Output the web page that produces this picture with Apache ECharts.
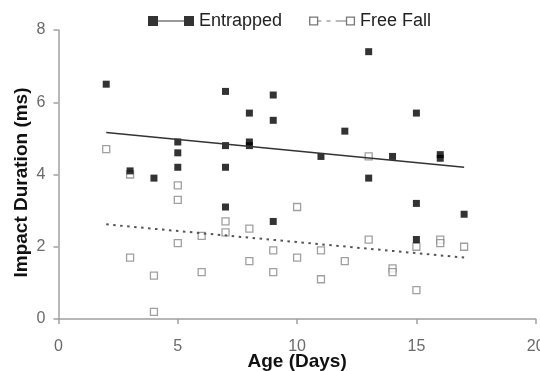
<!DOCTYPE html>
<html><head><meta charset="utf-8">
<script src="https://cdn.jsdelivr.net/npm/echarts@6/dist/echarts.min.js"></script>
<style>html,body{margin:0;padding:0;background:#fff}#c{width:540px;height:371px}</style>
</head><body><div id="c"></div>
<script>
// Entrapped: [age, duration]
const entrappedAge = [2,3,4,5,5,5,7,7,7,7,8,8,8,9,9,9,11,12,13,13,14,15,15,15,16,16,17];
const entrappedDur = [6.5,4.1,3.9,4.9,4.6,4.2,6.3,4.8,4.2,3.1,5.7,4.9,4.8,6.2,5.5,2.7,4.5,5.2,7.4,3.9,4.5,5.7,3.2,2.2,4.55,4.45,2.9];
// Free fall
const freeAge = [2,3,3,4,4,5,5,5,6,6,7,7,8,8,9,9,10,10,11,11,12,13,13,14,14,15,15,16,16,17];
const freeDur = [4.7,4.0,1.7,1.2,0.2,3.7,3.3,2.1,2.3,1.3,2.7,2.4,2.5,1.6,1.9,1.3,3.1,1.7,1.9,1.1,1.6,4.5,2.2,1.4,1.3,2.0,0.8,2.2,2.1,2.0];
// Trend lines (endpoints)
const trendAge = [2,17];
const entrappedTrend = [5.16,4.2];
const freeTrend = [2.62,1.70];
const xTicks = [0,5,10,15,20];
const yTicks = [0,2,4,6,8];

const zip = (a,b) => a.map((v,i)=>[v,b[i]]);
const chart = echarts.init(document.getElementById('c'));
const axisGray = '#a0a0a0';
const FF = 'Liberation Sans, Arial, sans-serif';
chart.setOption({
  animation:false,
  textStyle:{fontFamily:FF},
  grid:{left:58.5,right:4.3,top:30,bottom:52,containLabel:false,outerBoundsMode:'none'},
  legend:{
    top:12,left:148,padding:0,itemGap:27,itemWidth:46,itemHeight:10,
    textStyle:{fontSize:18,color:'#222',fontFamily:FF},
    data:[
      {name:'Entrapped',icon:'path://M0,0H10V10H0ZM10,4.4H37V5.6H10ZM36,0H46V10H36Z',itemStyle:{color:'#000',borderWidth:0}},
      {name:'Free Fall',icon:'path://M0,0.5H9V9.5H0ZM1.3,1.8V8.2H7.7V1.8ZM9,4.4H12V5.6H9ZM17,4.4H21V5.6H17ZM26,4.4H37V5.6H26ZM36,0.5H45V9.5H36ZM37.3,1.8V8.2H43.7V1.8Z',itemStyle:{color:'#555',borderWidth:0}}
    ]
  },
  xAxis:{
    type:'value',min:0,max:20,interval:5,
    name:'Age (Days)',nameLocation:'middle',nameGap:33,nameMoveOverlap:false,
    nameTextStyle:{fontSize:19,fontWeight:'bold',color:'#111'},
    axisLine:{lineStyle:{color:axisGray,width:1.5}},
    axisTick:{show:true,length:5,lineStyle:{color:axisGray,width:1.5}},
    axisLabel:{fontSize:16,color:'#6a6a6a',margin:20,formatter:v=>xTicks.includes(v)?String(v):''},
    splitLine:{show:false}
  },
  yAxis:{
    type:'value',min:0,max:8,interval:2,
    name:'Impact Duration (ms)',nameLocation:'middle',nameGap:27,nameRotate:90,nameMoveOverlap:false,
    nameTextStyle:{fontSize:19,fontWeight:'bold',color:'#111',padding:[0,16,0,0]},
    axisLine:{show:true,lineStyle:{color:axisGray,width:1.5}},
    axisTick:{show:true,length:5,lineStyle:{color:axisGray,width:1.5}},
    axisLabel:{fontSize:16,color:'#6a6a6a',margin:13,formatter:v=>yTicks.includes(v)?String(v):''},
    splitLine:{show:false}
  },
  series:[
    {name:'Free Fall',type:'scatter',symbol:'rect',symbolSize:7,z:2,
      itemStyle:{color:'#fff',borderColor:'#888',borderWidth:1.3},
      data:zip(freeAge,freeDur)},
    {name:'Entrapped',type:'scatter',symbol:'rect',symbolSize:7,z:3,
      itemStyle:{color:'#000'},
      data:zip(entrappedAge,entrappedDur)},
    {name:'Entrapped trend',type:'line',symbol:'none',z:4,silent:true,
      lineStyle:{color:'#333',width:1.5},
      data:zip(trendAge,entrappedTrend)},
    {name:'Free Fall trend',type:'line',symbol:'none',z:4,silent:true,
      lineStyle:{color:'#555',width:2,type:[2.5,4.5]},
      data:zip(trendAge,freeTrend)}
  ]
});
</script></body></html>
